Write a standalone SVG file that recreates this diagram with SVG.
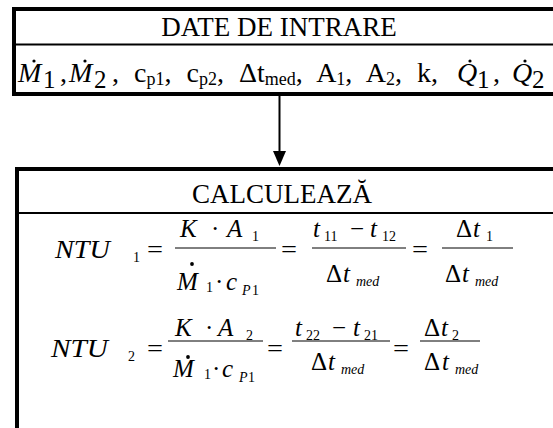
<svg xmlns="http://www.w3.org/2000/svg" width="553" height="428" viewBox="0 0 553 428">
<style>
.s{font-family:"Liberation Serif","Times New Roman",serif;fill:#000}
.i{font-style:italic}
.sb{font-size:14px}
.box{fill:#fff;stroke:#000;stroke-width:4}
.div{stroke:#000;stroke-width:2}
.fl{stroke:#000;stroke-width:1}
</style>
<rect width="553" height="428" fill="#fff"/>
<g id="date-de-intrare">
<rect class="box" x="14" y="9" width="560" height="85"/>
<line class="div" x1="14" y1="44.5" x2="553" y2="44.5"/>
<text class="s" x="279" y="36" font-size="27" text-anchor="middle">DATE DE INTRARE</text>
<g font-size="28">
<text class="s i" x="18" y="82">M</text><text class="s" x="43" y="88" font-size="25">1</text>
<circle cx="34" cy="61" r="1.6"/>
<text class="s" x="60" y="82">,</text>
<text class="s i" x="69" y="82">M</text><text class="s" x="94" y="88" font-size="25">2</text>
<circle cx="85" cy="61" r="1.6"/>
<text class="s" x="112" y="82" word-spacing="8">, c<tspan font-size="18" dy="3">p1</tspan><tspan dy="-3">, c</tspan><tspan font-size="18" dy="3">p2</tspan><tspan dy="-3">, Δt</tspan><tspan font-size="18" dy="3">med</tspan><tspan dy="-3">, A</tspan><tspan font-size="18" dy="3">1</tspan><tspan dy="-3">, A</tspan><tspan font-size="18" dy="3">2</tspan><tspan dy="-3">, k,</tspan></text>
<text class="s i" x="457" y="82">Q</text><text class="s" x="477" y="88" font-size="25">1</text>
<circle cx="470" cy="61" r="1.6"/>
<text class="s" x="493" y="82">,</text>
<text class="s i" x="512" y="82">Q</text><text class="s" x="532" y="88" font-size="25">2</text>
<circle cx="525" cy="61" r="1.6"/>
</g>
</g>
<g id="connectors">
<line x1="279.5" y1="96" x2="279.5" y2="152" stroke="#000" stroke-width="2"/>
<polygon points="273,151 286,151 279.5,166" fill="#000"/>
</g>
<g id="calculeaza">
<rect class="box" x="17" y="169" width="560" height="280"/>
<line class="div" x1="17" y1="213" x2="553" y2="213"/>
<text class="s" x="282" y="203" font-size="27" text-anchor="middle">CALCULEAZĂ</text>
<g id="eq1" font-size="25">
<text class="s i" x="55" y="258" textLength="55" lengthAdjust="spacingAndGlyphs">NTU</text>
<text class="s sb" x="133" y="262">1</text>
<text class="s" x="147" y="258" textLength="16" lengthAdjust="spacingAndGlyphs">=</text>
<text class="s i" x="180" y="237">K</text>
<text class="s" x="211" y="237">·</text>
<text class="s i" x="227" y="237">A</text>
<text class="s sb" x="252" y="241">1</text>
<line class="fl" x1="175" y1="248" x2="276" y2="248"/>
<text class="s i" x="177" y="290">M</text>
<circle cx="192" cy="264" r="1.9"/>
<text class="s sb" x="206" y="292">1</text>
<text class="s" x="215" y="290">·</text>
<text class="s i" x="226" y="290">c</text>
<text class="s i sb" x="242" y="295">P</text>
<text class="s sb" x="252" y="295">1</text>
<text class="s" x="281" y="258" textLength="16" lengthAdjust="spacingAndGlyphs">=</text>
<text class="s i" x="313" y="237">t</text>
<text class="s sb" x="324" y="241">11</text>
<text class="s" x="350" y="237">−</text>
<text class="s i" x="370" y="237">t</text>
<text class="s sb" x="382" y="241">12</text>
<line class="fl" x1="312" y1="248" x2="406" y2="248"/>
<text class="s" x="326" y="282">Δ</text>
<text class="s i" x="343" y="282">t</text>
<text class="s i sb" x="356" y="286">med</text>
<text class="s" x="412" y="258" textLength="16" lengthAdjust="spacingAndGlyphs">=</text>
<text class="s" x="456" y="237">Δ</text>
<text class="s i" x="473" y="237">t</text>
<text class="s sb" x="486" y="241">1</text>
<line class="fl" x1="442" y1="248" x2="513" y2="248"/>
<text class="s" x="445" y="282">Δ</text>
<text class="s i" x="462" y="282">t</text>
<text class="s i sb" x="475" y="286">med</text>
</g>
<g id="eq2" font-size="25">
<text class="s i" x="51" y="357" textLength="57" lengthAdjust="spacingAndGlyphs">NTU</text>
<text class="s sb" x="128" y="361">2</text>
<text class="s" x="147" y="357" textLength="16" lengthAdjust="spacingAndGlyphs">=</text>
<text class="s i" x="175" y="336">K</text>
<text class="s" x="205" y="336">·</text>
<text class="s i" x="218" y="336">A</text>
<text class="s sb" x="246" y="340">2</text>
<line class="fl" x1="168" y1="341" x2="263" y2="341"/>
<text class="s i" x="173" y="377">M</text>
<circle cx="188" cy="357" r="1.9"/>
<text class="s sb" x="204" y="379">1</text>
<text class="s" x="212" y="377">·</text>
<text class="s i" x="222" y="377">c</text>
<text class="s i sb" x="239" y="382">P</text>
<text class="s sb" x="248" y="382">1</text>
<text class="s" x="267" y="357" textLength="16" lengthAdjust="spacingAndGlyphs">=</text>
<text class="s i" x="295" y="336">t</text>
<text class="s sb" x="306" y="340">22</text>
<text class="s" x="332" y="336">−</text>
<text class="s i" x="353" y="336">t</text>
<text class="s sb" x="364" y="340">21</text>
<line class="fl" x1="292" y1="341" x2="390" y2="341"/>
<text class="s" x="311" y="370">Δ</text>
<text class="s i" x="328" y="370">t</text>
<text class="s i sb" x="341" y="374">med</text>
<text class="s" x="393" y="357" textLength="16" lengthAdjust="spacingAndGlyphs">=</text>
<text class="s" x="424" y="336">Δ</text>
<text class="s i" x="441" y="336">t</text>
<text class="s sb" x="452" y="340">2</text>
<line class="fl" x1="420" y1="341" x2="480" y2="341"/>
<text class="s" x="424" y="370">Δ</text>
<text class="s i" x="442" y="370">t</text>
<text class="s i sb" x="455" y="374">med</text>
</g>
</g>
</svg>
